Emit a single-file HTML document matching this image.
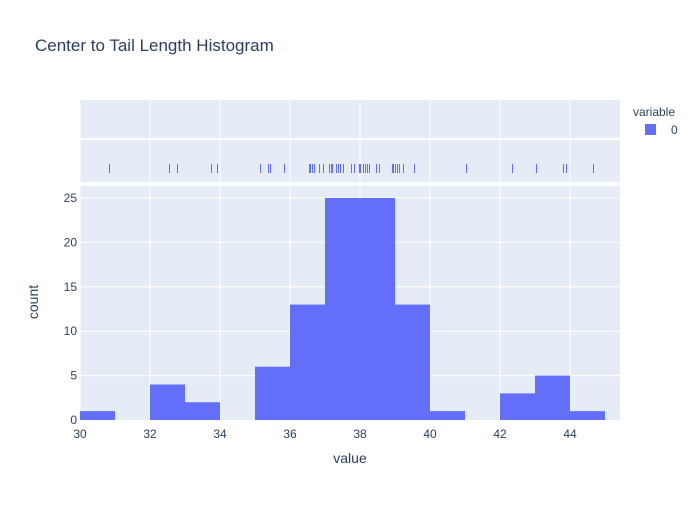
<!DOCTYPE html>
<html><head><meta charset="utf-8"><style>
body{margin:0;background:#fff;font-family:"Liberation Sans",Arial,sans-serif;}
svg text{font-family:"Liberation Sans",Arial,sans-serif;fill:#2a3f5f;}
</style></head><body>
<svg id="c" width="700" height="500">
<text x="35" y="51" font-size="17">Center to Tail Length Histogram</text>
<rect x="80" y="100" width="540" height="82" fill="#e5ecf6"/>
<rect x="80" y="186" width="540" height="234" fill="#e5ecf6"/>
<g id="grid"></g><g id="bars"></g><g id="rug"></g><g id="ticks"></g>
<text x="350" y="463" font-size="14" text-anchor="middle">value</text>
<text x="38" y="302" font-size="14" text-anchor="middle" transform="rotate(-90 38 302)">count</text>
<text x="633" y="116" font-size="12">variable</text>
<g><rect x="645" y="124" width="11" height="11" fill="#636efa"/><text x="671" y="134" font-size="12">0</text></g>
</svg>
<script>
const binStarts=[30,31,32,33,34,35,36,37,38,39,40,41,42,43,44];
const counts=[1,0,4,2,0,6,13,25,25,13,1,0,3,5,1];
const rugValues=[30.83,32.54,32.77,33.74,33.91,35.14,35.37,35.43,35.83,36.54,36.57,36.63,36.69,36.83,36.94,37.11,37.17,37.2,37.31,37.37,37.43,37.51,37.74,37.83,37.97,38.0,38.09,38.14,38.2,38.26,38.46,38.54,38.91,38.94,39.0,39.06,39.11,39.23,39.54,41.03,42.34,43.03,43.8,43.89,44.66];
const xTicks=[30,32,34,36,38,40,42,44];
const yTicks=[0,5,10,15,20,25];
const NS="http://www.w3.org/2000/svg";
const X=v=>80+(v-30)*35, Y=v=>420-v*(222/25);
function mk(p,t,a){const e=document.createElementNS(NS,t);for(const k in a)e.setAttribute(k,a[k]);document.getElementById(p).appendChild(e);return e;}
xTicks.forEach(t=>{
 let g=mk('grid','line',{x1:X(t),x2:X(t),y1:100,y2:182,stroke:'#fff','stroke-width':1});
 
 
 let g2=mk('grid','line',{x1:X(t),x2:X(t),y1:186,y2:420,stroke:'#fff','stroke-width':1});
 
 
 let l=mk('ticks','text',{x:X(t),y:438,'font-size':12,'text-anchor':'middle'});l.textContent=t;
 
 
});
let rg=mk('grid','line',{x1:80,x2:620,y1:139,y2:139,stroke:'#fff','stroke-width':2});


yTicks.forEach(t=>{
 if(t>0){let g=mk('grid','line',{x1:80,x2:620,y1:Y(t),y2:Y(t),stroke:'#fff','stroke-width':1});
 
 }
 let l=mk('ticks','text',{x:77,y:Y(t)+4,'font-size':12,'text-anchor':'end'});l.textContent=t;
 
 
});
binStarts.forEach((b,i)=>{if(!counts[i])return;
 let r=mk('bars','rect',{x:X(b),y:Y(counts[i]),width:X(b+1)-X(b),height:420-Y(counts[i]),fill:'#636efa'});
 
 
});
rugValues.forEach(v=>{
 const px=Math.round(X(v))+0.5;
 let l=mk('rug','line',{x1:px,x2:px,y1:164,y2:173,stroke:'#636efa','stroke-width':1});
 
 
});
</script>
</body></html>
